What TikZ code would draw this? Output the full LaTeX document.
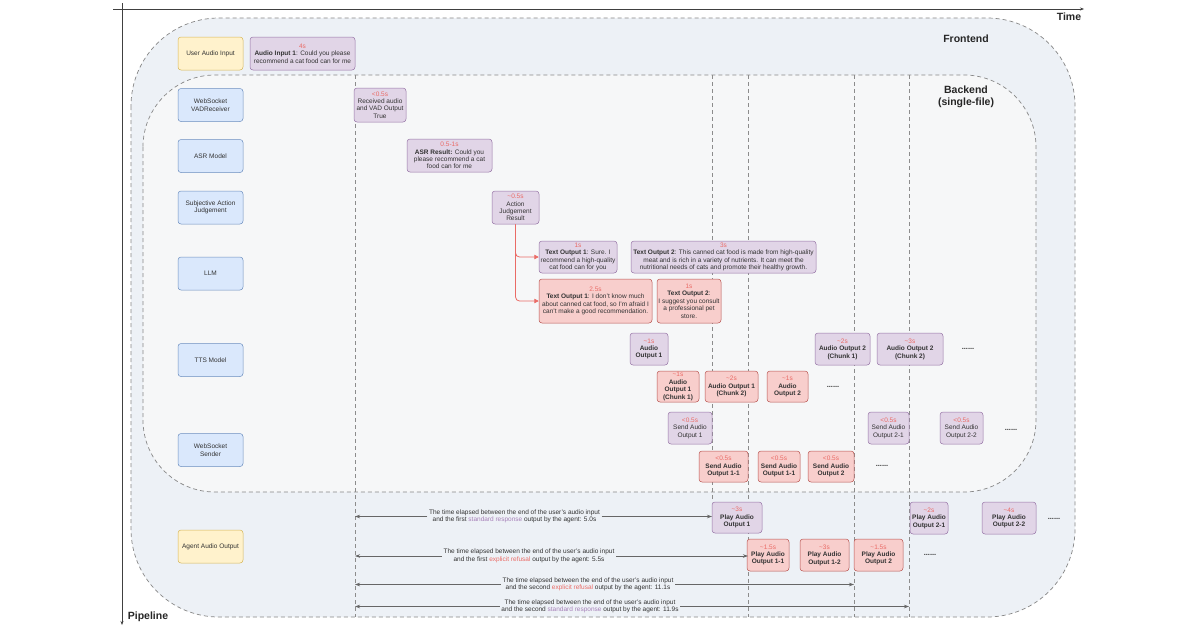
\documentclass[tikz,border=0pt]{standalone}
\usepackage{fontspec}
\setmainfont{Liberation Sans}
\usepackage{xcolor}
\usetikzlibrary{arrows.meta}

\definecolor{frontfill}{RGB}{237,241,246}
\definecolor{backfill}{RGB}{246,247,248}
\definecolor{zoneline}{RGB}{135,135,135}
\definecolor{purplefill}{HTML}{E1D5E7}
\definecolor{purpleline}{HTML}{9673A6}
\definecolor{redfill}{HTML}{F8CECC}
\definecolor{redline}{HTML}{B85450}
\definecolor{bluefill}{HTML}{DAE8FC}
\definecolor{blueline}{HTML}{6C8EBF}
\definecolor{yellowfill}{HTML}{FFF2CC}
\definecolor{yellowline}{HTML}{D6B656}
\definecolor{durred}{HTML}{EA6B66}
\definecolor{stdtext}{HTML}{A680B8}
\definecolor{inktext}{HTML}{333333}

\newcommand{\tdur}[1]{{\mdseries\color{durred}#1}}

\tikzset{
  lanebox/.style={rounded corners=3pt, line width=0.5pt, minimum width=65pt, minimum height=32pt,
    align=center, inner sep=1pt, text=inktext, font=\fontsize{6.5}{7.4}\selectfont},
  lane/.style={lanebox, draw=blueline, fill=bluefill, minimum height=33pt},
  iolane/.style={lanebox, draw=yellowline, fill=yellowfill, minimum height=33pt},
  stdbox/.style={lanebox, draw=purpleline, fill=purplefill, minimum width=#1},
  refbox/.style={lanebox, draw=redline, fill=redfill, minimum width=#1},
  heavy/.style={font=\fontsize{6.5}{7.4}\selectfont\bfseries},
  ellip/.style={text=inktext, font=\fontsize{7.5}{8}\selectfont\bfseries},
  zone/.style={draw=zoneline, dash pattern=on 4pt off 3pt, line width=0.7pt},
  zonetitle/.style={align=center, text=black!85, font=\fontsize{10.5}{12}\selectfont\bfseries},
  timeline/.style={draw=black!45, dash pattern=on 4pt off 3pt, line width=0.9pt},
  gapline/.style={draw=black!60, line width=0.6pt, -{Stealth[length=5pt,width=3.5pt]}},
  gaplabel/.style={fill=frontfill, align=center, inner sep=1.5pt, text=inktext, font=\fontsize{6.5}{7.6}\selectfont},
  branch/.style={draw=durred, line width=0.8pt, rounded corners=4pt, -{Triangle[length=4.5pt,width=4.5pt]}},
  axis/.style={draw=black!75, line width=0.6pt, -{Stealth[length=4pt,width=3pt]}}
}

\begin{document}
\begin{tikzpicture}[x=1pt, y=-1pt]

\useasboundingbox (0,0) rectangle (1200,630);
\fill[white] (0,0) rectangle (1200,630);

% axes
\draw[axis] (113,9) -- (1084,9);
\draw[axis] (122,3) -- (122,625);
\node[zonetitle] (time) at (1069,17) {Time};
\node[zonetitle] (pipeline) at (148,617) {Pipeline};

% frontend / backend zones
\draw[zone, fill=frontfill, rounded corners=88pt] (131,18) rectangle (1075,617);
\draw[zone, fill=backfill, rounded corners=72pt] (143,75) rectangle (1036,492);
\node[zonetitle] (front) at (966,39) {Frontend};
\node[zonetitle] (back) at (966,97) {Backend\\(single-file)};

% time marks
\foreach \n/\x in {t0/355, t1/712, t2/748, t3/854, t4/909} \coordinate (\n) at (\x,75);
\foreach \n in {t0, t2, t3, t4} \draw[timeline] (\n) -- (\n |- 0,617);
\draw[timeline] (t1) -- (t1 |- 0,502);

% lanes
\node[iolane] (user) at (210.5,53.5) {User Audio Input};
\foreach \n/\y/\lbl in {vad/105/{WebSocket\\VADReceiver}, asr/156/{ASR Model},
    judge/207.5/{Subjective Action\\Judgement}, llm/273.5/LLM, tts/360/{TTS Model},
    sender/450/{WebSocket\\Sender}}
  \node[lane] (\n) at (210.5,\y) {\lbl};
\node[iolane] (agent) at (210.5,546.5) {Agent Audio Output};

% input, vad, asr, judgement
\node[stdbox=105pt, minimum height=33pt] (input1) at (302.5,53.5) {\tdur{4s}\\\textbf{Audio Input 1}: Could you please\\recommend a cat food can for me};
\node[stdbox=52pt, minimum height=34pt] (vadout) at (380,105) {\tdur{<0.5s}\\Received audio\\and VAD Output\\True};
\node[stdbox=85pt, minimum height=33pt] (asrout) at (449.5,155.5) {\tdur{0.5-1s}\\\textbf{ASR Result:} Could you\\please recommend a cat\\food can for me};
\node[stdbox=47pt, minimum height=33pt] (ajout) at (515.5,207.5) {\tdur{\textasciitilde0.5s}\\Action\\Judgement\\Result};

% llm
\node[stdbox=78pt] (text1) at (578,257) {\tdur{1s}\\\textbf{Text Output 1}: Sure. I\\recommend a high-quality\\cat food can for you};
\node[stdbox=185pt] (text2) at (723.5,257) {\tdur{3s}\\\textbf{Text Output 2}: This canned cat food is made from high-quality\\meat and is rich in a variety of nutrients. It can meet the\\nutritional needs of cats and promote their healthy growth.};
\node[refbox=113pt, minimum height=44pt] (refuse1) at (595.5,301) {\tdur{2.5s}\\\textbf{Text Output 1}: I don't know much\\about canned cat food, so I'm afraid I\\can't make a good recommendation.};
\node[refbox=64pt, minimum height=44pt] (refuse2) at (689,301) {\tdur{1s}\\\textbf{Text Output 2}:\\I suggest you consult\\a professional pet\\store.};
\draw[branch] (ajout.south) |- (text1.west);
\draw[branch] (ajout.south) |- (refuse1.west);

% tts
\node[stdbox=38pt, heavy] (speech1) at (649,349) {\tdur{\textasciitilde1s}\\Audio\\Output 1};
\node[refbox=42pt, minimum height=31pt, heavy] (chunk11) at (678,386.5) {\tdur{\textasciitilde1s}\\Audio\\Output 1\\(Chunk 1)};
\node[refbox=53pt, minimum height=31pt, heavy] (chunk12) at (731.5,386.5) {\tdur{\textasciitilde2s}\\Audio Output 1\\(Chunk 2)};
\node[refbox=41pt, minimum height=31pt, heavy] (chunk2) at (787.5,386.5) {\tdur{\textasciitilde1s}\\Audio\\Output 2};
\node[ellip] (more1) at (833,387) {......};
\node[stdbox=55pt, heavy] (chunk21) at (842.5,349) {\tdur{\textasciitilde2s}\\Audio Output 2\\(Chunk 1)};
\node[stdbox=66pt, heavy] (chunk22) at (910,349) {\tdur{\textasciitilde3s}\\Audio Output 2\\(Chunk 2)};
\node[ellip] (more2) at (968,349) {......};

% sender
\node[stdbox=44pt] (send1) at (690,428) {\tdur{<0.5s}\\Send Audio\\Output 1};
\node[refbox=49pt, minimum height=31pt, heavy] (send11) at (723.5,466.5) {\tdur{<0.5s}\\Send Audio\\Output 1-1};
\node[refbox=42pt, minimum height=31pt, heavy] (send12) at (779,466.5) {\tdur{<0.5s}\\Send Audio\\Output 1-1};
\node[refbox=46pt, minimum height=31pt, heavy] (send2) at (831,466.5) {\tdur{<0.5s}\\Send Audio\\Output 2};
\node[ellip] (more3) at (882,466) {......};
\node[stdbox=41pt] (send21) at (888.5,428) {\tdur{<0.5s}\\Send Audio\\Output 2-1};
\node[stdbox=43pt] (send22) at (961.5,428) {\tdur{<0.5s}\\Send Audio\\Output 2-2};
\node[ellip] (more4) at (1011,430) {......};

% agent output
\node[stdbox=50pt, minimum height=31pt, heavy] (play1) at (737,517.5) {\tdur{\textasciitilde3s}\\Play Audio\\Output 1};
\node[refbox=42pt, heavy] (play11) at (768,555) {\tdur{\textasciitilde1.5s}\\Play Audio\\Output 1-1};
\node[refbox=49pt, heavy] (play12) at (824.5,555) {\tdur{\textasciitilde3s}\\Play Audio\\Output 1-2};
\node[refbox=49pt, heavy] (play2) at (878.5,555) {\tdur{\textasciitilde1.5s}\\Play Audio\\Output 2};
\node[ellip] (more5) at (930,555) {......};
\node[stdbox=38pt, heavy] (play21) at (929,518) {\tdur{\textasciitilde2s}\\Play Audio\\Output 2-1};
\node[stdbox=54pt, heavy] (play22) at (1009,518) {\tdur{\textasciitilde4s}\\Play Audio\\Output 2-2};
\node[ellip] (more6) at (1054,519) {......};

% elapsed times
\node[gaplabel] (gap1) at (514.5,516.5) {The time elapsed between the end of the user's audio input\\and the first \textcolor{stdtext}{standard response} output by the agent: 5.0s};
\node[gaplabel] (gap2) at (529,556) {The time elapsed between the end of the user's audio input\\and the first \textcolor{durred}{explicit refusal} output by the agent: 5.5s};
\node[gaplabel] (gap3) at (588,584.5) {The time elapsed between the end of the user's audio input\\and the second \textcolor{durred}{explicit refusal} output by the agent: 11.1s};
\node[gaplabel] (gap4) at (590,606.5) {The time elapsed between the end of the user's audio input\\and the second \textcolor{stdtext}{standard response} output by the agent: 11.9s};
\foreach \g/\t in {gap1/t1, gap2/t2, gap3/t3, gap4/t4} {
  \draw[gapline] (\g) -- (t0 |- \g);
  \draw[gapline] (\g) -- (\t |- \g);
}

\end{tikzpicture}
\end{document}
